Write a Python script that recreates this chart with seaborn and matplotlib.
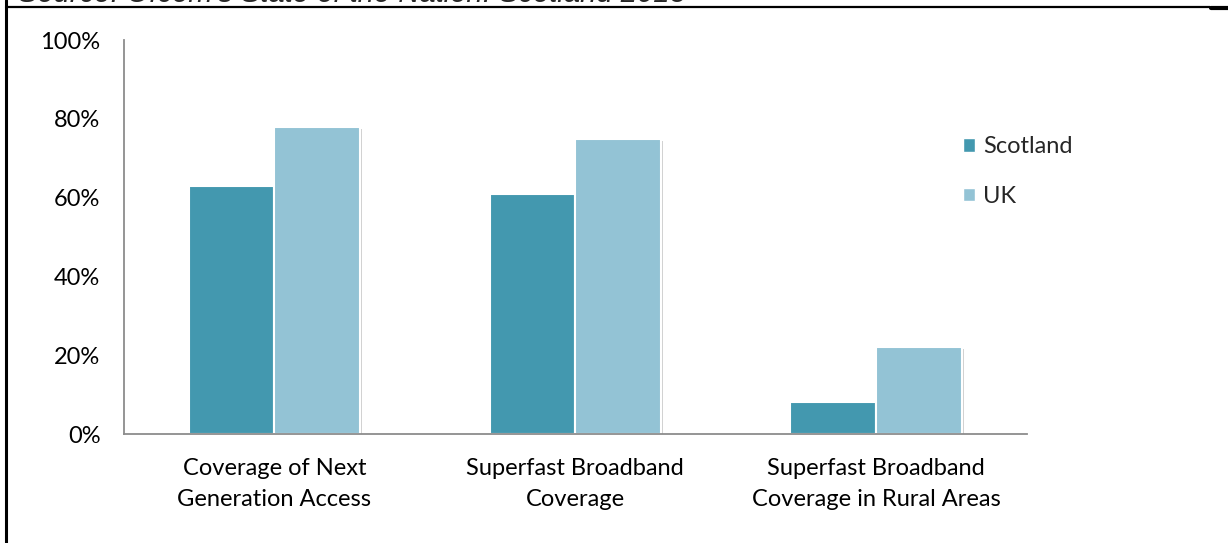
import matplotlib
matplotlib.use("Agg")
import matplotlib.pyplot as plt
import matplotlib.patheffects as pe
from matplotlib.lines import Line2D
from matplotlib.patches import Patch
import seaborn as sns
import pandas as pd

# Broadband coverage, Scotland vs UK (percent)
categories = [
    "Coverage of Next\nGeneration Access",
    "Superfast Broadband\nCoverage",
    "Superfast Broadband\nCoverage in Rural Areas",
]
scotland = [63, 61, 8]
uk = [78, 75, 22]
series_names = ["Scotland", "UK"]
y_ticks = [0, 20, 40, 60, 80, 100]
source_text = "Source: Ofcom's State of the Nation: Scotland 2013"

colors = {"Scotland": "#4398AF", "UK": "#93C3D5"}

df = pd.DataFrame({
    "category": categories * 2,
    "series": [series_names[0]] * len(categories) + [series_names[1]] * len(categories),
    "value": scotland + uk,
})

sns.set_theme(style="white")
plt.rcParams["font.family"] = ["Lato", "DejaVu Sans"]

FS = 17

fig = plt.figure(figsize=(12.28, 5.43), dpi=100)
ax = fig.add_axes([0.101, 0.2007, 0.735, 0.7256])

sns.barplot(data=df, x="category", y="value", hue="series", palette=colors,
            order=categories, hue_order=series_names, width=0.57, gap=0,
            saturation=1, edgecolor="white", linewidth=1.5, ax=ax, legend=False)

for bar in ax.patches:
    bar.set_path_effects([pe.SimplePatchShadow(offset=(1.5, -1.5), alpha=0.18, shadow_rgbFace="black"),
                          pe.Normal()])

ax.set_xlim(-0.5, 2.5)
ax.set_ylim(0, 100)
ax.set_yticks(y_ticks)
ax.set_yticklabels([f"{v}%" for v in y_ticks])
ax.set_xlabel("")
ax.set_ylabel("")
ax.tick_params(axis="both", length=0, labelsize=FS, colors="black")
ax.tick_params(axis="y", pad=17)
ax.tick_params(axis="x", pad=17)
for lab in ax.get_xticklabels():
    lab.set_linespacing(1.62)

for side in ["top", "right"]:
    ax.spines[side].set_visible(False)
for side in ["left", "bottom"]:
    ax.spines[side].set_color("#8C8C8C")
    ax.spines[side].set_linewidth(1.3)

handles = [Patch(facecolor=colors[s], edgecolor="white", label=s) for s in series_names]
fig.legend(handles=handles, loc="upper left", bbox_to_anchor=(0.767, 0.788),
           frameon=False, fontsize=FS, handlelength=0.5, handleheight=0.5,
           handletextpad=0.35, labelspacing=1.2)

# page frame and clipped source line above the chart
fig.add_artist(Line2D([0.0052, 0.0052], [0, 1], color="black", lw=2.2,
                      transform=fig.transFigure))
fig.add_artist(Line2D([0.005, 0.985], [0.987, 0.987], color="black", lw=1.6,
                      transform=fig.transFigure))
fig.add_artist(Line2D([0.986, 1.0], [0.986, 0.986], color="black", lw=3.0,
                      transform=fig.transFigure))
fig.text(0.015, 0.996, source_text, fontsize=21, style="italic",
         family=["Liberation Sans", "DejaVu Sans"], va="baseline", ha="left")

fig.savefig("out.png", dpi=100)
